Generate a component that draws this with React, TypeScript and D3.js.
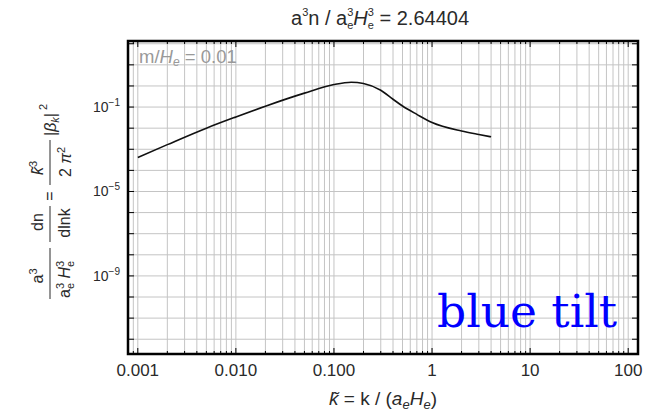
import React from "react";
import * as d3 from "d3";

// ---- data ----
const kValues = [0.001, 0.002, 0.005, 0.01, 0.02, 0.05, 0.1, 0.15, 0.2, 0.3, 0.4, 0.5, 0.7, 1, 2, 3, 4];
const spectrum = [4.1e-4, 1.66e-3, 0.010, 0.034, 0.11, 0.457, 1.17, 1.51, 1.32, 0.63, 0.235, 0.112, 0.045, 0.0186, 0.0073, 0.005, 0.0039];
const xTickValues = [0.001, 0.01, 0.1, 1, 10, 100];
const xTickLabels = ["0.001", "0.010", "0.100", "1", "10", "100"];
const yTickExponents = [-1, -5, -9];
const titleValue = "2.64404";
const massLabelValue = "0.01";
const tiltLabel = "blue tilt";

const W = 649;
const H = 413;
const FONT = "'Liberation Sans', Arial, Helvetica, sans-serif";

export default function App() {
  const left = 128, right = 638, top = 41, bottom = 354;
  const x = d3.scaleLog().domain([Math.pow(10, -3.1), Math.pow(10, 2.1)]).range([left, right]);
  const y = d3.scaleLog().domain([Math.pow(10, -12.7), Math.pow(10, 2.13)]).range([bottom, top]);

  const [x0, x1] = x.domain();
  const xGrid: { v: number; major: boolean }[] = [];
  for (let e = -4; e <= 2; e++) {
    for (let m = 1; m <= 9; m++) {
      const v = m * Math.pow(10, e);
      if (v >= x0 && v <= x1) xGrid.push({ v, major: m === 1 });
    }
  }
  const [y0, y1] = y.domain();
  const yGrid: number[] = [];
  for (let e = -13; e <= 3; e++) {
    const v = Math.pow(10, e);
    if (v >= y0 && v <= y1) yGrid.push(v);
  }

  const pts: [number, number][] = kValues.map((k, i) => [k, spectrum[i]]);
  const line = d3
    .line<[number, number]>()
    .x((d) => x(d[0]))
    .y((d) => y(d[1]))
    .curve(d3.curveMonotoneX);

  const gridColor = "#c4c4c4";
  const textColor = "#2a2a2a";

  return (
    <svg
      width={W}
      height={H}
      style={{ position: "absolute", left: 0, top: 0, display: "block", background: "#fff" }}
      fontFamily={FONT}
    >
      <rect x={0} y={0} width={W} height={H} fill="#fff" />
      {/* grid */}
      {xGrid.map((g, i) => (
        <line key={"xg" + i} x1={x(g.v)} x2={x(g.v)} y1={top} y2={bottom} stroke={gridColor} strokeWidth={1} />
      ))}
      {yGrid.map((v, i) => (
        <line key={"yg" + i} x1={left} x2={right} y1={y(v)} y2={y(v)} stroke={gridColor} strokeWidth={1} />
      ))}

      {/* ticks */}
      {xGrid.map((g, i) => (
        <g key={"xt" + i}>
          <line x1={x(g.v)} x2={x(g.v)} y1={bottom} y2={bottom - (g.major ? 6 : 3)} stroke="#000" strokeWidth={1} />
          <line x1={x(g.v)} x2={x(g.v)} y1={top} y2={top + (g.major ? 6 : 3)} stroke="#000" strokeWidth={1} />
        </g>
      ))}
      {yGrid.map((v, i) => (
        <g key={"yt" + i}>
          <line x1={left} x2={left + 6} y1={y(v)} y2={y(v)} stroke="#000" strokeWidth={1} />
          <line x1={right} x2={right - 6} y1={y(v)} y2={y(v)} stroke="#000" strokeWidth={1} />
        </g>
      ))}

      {/* curve */}
      <path d={line(pts) || ""} fill="none" stroke="#111" strokeWidth={1.6} />

      {/* frame */}
      <rect x={left} y={top} width={right - left} height={bottom - top} fill="none" stroke="#000" strokeWidth={2.5} />

      {/* x tick labels */}
      {xTickValues.map((v, i) => (
        <text key={"xl" + i} x={x(v)} y={376} textAnchor="middle" fontSize={17} fill={textColor}>
          {xTickLabels[i]}
        </text>
      ))}

      {/* y tick labels */}
      {yTickExponents.map((e) => (
        <text key={"yl" + e} x={120} y={y(Math.pow(10, e)) + 5} textAnchor="end" fontSize={14} fill={textColor}>
          10
          <tspan fontSize={10} dy={-6}>
            {"\u2212" + Math.abs(e)}
          </tspan>
        </text>
      ))}

      {/* mass label */}
      <text x={139} y={63} fontSize={18.5} fill="#999">
        m/<tspan fontStyle="italic">H</tspan>
        <tspan fontSize={12} dy={3} fontStyle="italic">e</tspan>
        <tspan dy={-3}>{" = " + massLabelValue}</tspan>
      </text>

      {/* title */}
      <text x={291} y={25} fontSize={20} fill={textColor}>
        a<tspan fontSize={11} dy={-9}>3</tspan>
        <tspan dy={9}>n / a</tspan>
        <tspan fontSize={11} dy={-9}>3</tspan>
        <tspan fontSize={11} dx={-6.1} dy={13}>e</tspan>
        <tspan dy={-4} fontStyle="italic">H</tspan>
        <tspan fontSize={11} dy={-9}>3</tspan>
        <tspan fontSize={11} dx={-6.1} dy={13}>e</tspan>
        <tspan dy={-4}>{" = " + titleValue}</tspan>
      </text>

      {/* x axis label */}
      <text x={383} y={405} textAnchor="middle" fontSize={19} fill={textColor}>
        <tspan fontStyle="italic">{"k\u0303"}</tspan>
        {" = k / ("}
        <tspan fontStyle="italic">a</tspan>
        <tspan fontSize={13} dy={4} fontStyle="italic">e</tspan>
        <tspan dy={-4} fontStyle="italic">H</tspan>
        <tspan fontSize={13} dy={4} fontStyle="italic">e</tspan>
        <tspan dy={-4}>)</tspan>
      </text>

      {/* y axis label (rotated composite) */}
      <g transform="translate(50,202) rotate(-90)" fill={textColor} fontSize={16}>
        {/* fraction 1 */}
        <text x={-74} y={-7} textAnchor="middle">
          a<tspan fontSize={11} dy={-6}>3</tspan>
        </text>
        <line x1={-97} x2={-46} y1={0} y2={0} stroke={textColor} strokeWidth={1} />
        <text x={-96} y={20}>
          a<tspan fontSize={11} dy={-6}>3</tspan>
          <tspan fontSize={11} dx={-6.1} dy={10}>e</tspan>
          <tspan dy={-4} fontStyle="italic">{" H"}</tspan>
          <tspan fontSize={11} dy={-6}>3</tspan>
          <tspan fontSize={11} dx={-6.1} dy={10}>e</tspan>
        </text>
        {/* fraction 2 */}
        <text x={-20} y={-7} textAnchor="middle">dn</text>
        <line x1={-40} x2={-4} y1={0} y2={0} stroke={textColor} strokeWidth={1} />
        <text x={-21} y={20} textAnchor="middle">dlnk</text>
        {/* equals */}
        <text x={6} y={5} textAnchor="middle">=</text>
        {/* fraction 3 */}
        <text x={34} y={-7} textAnchor="middle">
          <tspan fontStyle="italic">{"k\u0303"}</tspan>
          <tspan fontSize={11} dy={-6}>3</tspan>
        </text>
        <line x1={17} x2={62} y1={0} y2={0} stroke={textColor} strokeWidth={1} />
        <text x={40} y={21} textAnchor="middle">
          2 <tspan fontStyle="italic">{"\u03c0"}</tspan>
          <tspan fontSize={11} dy={-6}>2</tspan>
        </text>
        {/* |beta_k|^2 */}
        <text x={66} y={6}>
          |<tspan fontStyle="italic">{"\u03b2"}</tspan>
          <tspan fontSize={11} dy={3} fontStyle="italic">k</tspan>
          <tspan dy={-3}>|</tspan>
          <tspan fontSize={11} dy={-9}>{" 2"}</tspan>
        </text>
      </g>

      {/* blue tilt annotation */}
      <text x={437} y={327} fontSize={45.5} fill="#0000ff" fontFamily="'DejaVu Serif', serif">
        {tiltLabel}
      </text>
    </svg>
  );
}
